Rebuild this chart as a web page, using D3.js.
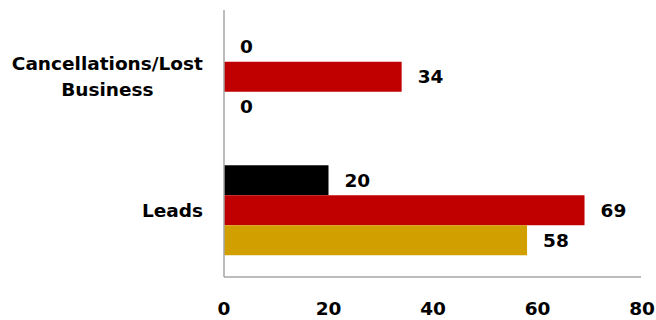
<!DOCTYPE html>
<html>
<head>
<meta charset="utf-8">
<script src="https://cdn.jsdelivr.net/npm/d3@7"></script>
<style>
  body { margin: 0; background: #fff; }
  text { font-family: "DejaVu Sans", sans-serif; font-weight: bold; fill: #000; }
</style>
</head>
<body>
<div id="chart"></div>
<script>
// data
var categories = [["Cancellations/Lost", "Business"], ["Leads"]];
var series = ["s1", "s2", "s3"];
var values = [
	[0, 34, 0],
	[20, 69, 58]
];
var colors = ["#000000", "#C00000", "#D19F00"];
var tickValues = [0, 20, 40, 60, 80];

var chart_width = 656;
var chart_height = 320;
var font_size = 18.5;

var svg = d3.select('#chart')
	.append('svg')
	.attr('width', chart_width)
	.attr('height', chart_height);

var x = d3.scaleLinear()
	.domain([0, 80])
	.range([224, 642]);

var y = d3.scaleBand()
	.domain(d3.range(categories.length))
	.range([10, 277])
	.paddingInner(0.326)
	.paddingOuter(0.163);

var ySub = d3.scaleBand()
	.domain(series)
	.range([0, y.bandwidth()]);

// bars
var groups = svg.selectAll('g.cat')
	.data(values)
	.enter()
	.append('g')
	.attr('class', 'cat')
	.attr('transform', function(d, i){ return 'translate(0,' + y(i) + ')'; });

groups.selectAll('rect')
	.data(function(d){ return d; })
	.enter()
	.append('rect')
	.attr('x', x(0))
	.attr('y', function(d, i){ return ySub(series[i]); })
	.attr('width', function(d){ return x(d) - x(0); })
	.attr('height', ySub.bandwidth())
	.attr('fill', function(d, i){ return colors[i]; });

// value labels
groups.selectAll('text')
	.data(function(d){ return d; })
	.enter()
	.append('text')
	.text(function(d){ return d; })
	.attr('x', function(d){ return x(d) + 16; })
	.attr('y', function(d, i){ return ySub(series[i]) + ySub.bandwidth() / 2; })
	.attr('dy', '0.36em')
	.attr('font-size', font_size);

// axes lines
svg.append('line')
	.attr('x1', x(0)).attr('x2', x(0))
	.attr('y1', 10).attr('y2', 277)
	.attr('stroke', '#a6a6a6')
	.attr('stroke-width', 1.5);
svg.append('line')
	.attr('x1', x(0)).attr('x2', x(80) - 1)
	.attr('y1', 277).attr('y2', 277)
	.attr('stroke', '#a6a6a6')
	.attr('stroke-width', 1.5);

// x tick labels
svg.selectAll('text.tick')
	.data(tickValues)
	.enter()
	.append('text')
	.attr('class', 'tick')
	.text(function(d){ return d; })
	.attr('x', function(d){ return x(d); })
	.attr('y', 315)
	.attr('text-anchor', 'middle')
	.attr('font-size', font_size);

// category labels, right edge at 203, lines centred on each other
var line_gap = 26;
categories.forEach(function(lines, i){
	var cy = y(i) + y.bandwidth() / 2;
	var t = svg.append('text')
		.attr('font-size', font_size)
		.attr('text-anchor', 'middle');
	lines.forEach(function(l, j){
		t.append('tspan')
			.text(l)
			.attr('x', 0)
			.attr('y', cy + (j - (lines.length - 1) / 2) * line_gap)
			.attr('dy', '0.36em');
	});
	var w = t.node().getBBox().width;
	t.selectAll('tspan').attr('x', 203 - w / 2);
});
</script>
</body>
</html>
